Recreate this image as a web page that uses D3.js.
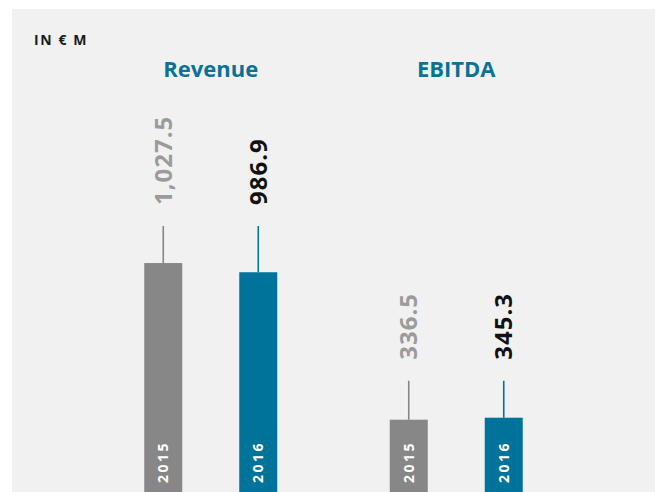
<!DOCTYPE html>
<html>
<head>
<meta charset="utf-8">
<script src="https://cdn.jsdelivr.net/npm/d3@7"></script>
<style>
    body { margin: 0; background: #ffffff; }
    text { font-family: "Open Sans", sans-serif; }
</style>
</head>
<body>
<div id="chart"></div>
<script>
const groups = ["Revenue", "EBITDA"];
const years = ["2015", "2016"];
const revenueValues = [1027.5, 986.9];
const ebitdaValues = [336.5, 345.3];
const valueLabels = [["1,027.5", "986.9"], ["336.5", "345.3"]];

const width = 657;
const height = 492;

const data = groups.map((g, i) => ({
    group: g,
    values: (i === 0 ? revenueValues : ebitdaValues).map((v, j) => ({
        year: years[j],
        value: v,
        label: valueLabels[i][j],
    })),
}));

const svg = d3
    .select("#chart")
    .append("svg")
    .attr("width", width)
    .attr("height", height);

// panel
svg.append("rect")
    .attr("x", 12)
    .attr("y", 9)
    .attr("width", 643)
    .attr("height", height - 9)
    .attr("fill", "#f1f1f1");

const x = d3.scaleBand().domain(groups).range([88, 579]);
const xInner = d3.scalePoint().domain(years).range([-47.5, 47.5]);
const y = d3.scaleLinear().domain([0, 1100]).range([496, 246.6]);
const color = d3.scaleOrdinal().domain(years).range(["#878787", "#00739a"]);
const labelColor = d3.scaleOrdinal().domain(years).range(["#9b9b9b", "#111111"]);
const barWidth = 38;

svg.append("text")
    .attr("x", 34)
    .attr("y", 45)
    .text("IN € M")
    .style("font-size", "14px")
    .style("font-weight", "700")
    .style("letter-spacing", "1.6px")
    .style("fill", "#1a1a1a");

const groupG = svg
    .selectAll(".group")
    .data(data)
    .enter()
    .append("g")
    .attr("class", "group")
    .attr("transform", (d) => `translate(${x(d.group) + x.bandwidth() / 2},0)`);

groupG
    .append("text")
    .attr("x", 0)
    .attr("y", 77)
    .attr("text-anchor", "middle")
    .text((d) => d.group)
    .style("font-size", "22px")
    .style("font-weight", "700")
    .style("fill", "#0a7199");

groupG.each(function (g) {
    const el = d3.select(this);
    const top = y(d3.max(g.values, (d) => d.value)) - 37;

    el.selectAll("line")
        .data(g.values)
        .enter()
        .append("line")
        .attr("x1", (d) => xInner(d.year))
        .attr("x2", (d) => xInner(d.year))
        .attr("y1", top)
        .attr("y2", (d) => y(d.value))
        .attr("stroke", (d) => color(d.year))
        .attr("stroke-width", 1.6);

    el.selectAll("rect")
        .data(g.values)
        .enter()
        .append("rect")
        .attr("x", (d) => xInner(d.year) - barWidth / 2)
        .attr("y", (d) => y(d.value))
        .attr("width", barWidth)
        .attr("height", (d) => y(0) - y(d.value))
        .attr("fill", (d) => color(d.year));

    el.selectAll(".valueLabel")
        .data(g.values)
        .enter()
        .append("text")
        .attr("class", "valueLabel")
        .attr("transform", (d) => `translate(${xInner(d.year)},${top - 21}) rotate(-90)`)
        .attr("dy", "0.36em")
        .text((d) => d.label)
        .style("font-size", "24px")
        .style("font-weight", "700")
        .style("letter-spacing", "1px")
        .style("fill", (d) => labelColor(d.year));

    el.selectAll(".yearLabel")
        .data(g.values)
        .enter()
        .append("text")
        .attr("class", "yearLabel")
        .attr("transform", (d) => `translate(${xInner(d.year)},483) rotate(-90)`)
        .attr("dy", "0.36em")
        .text((d) => d.year)
        .style("font-size", "14px")
        .style("font-weight", "700")
        .style("letter-spacing", "2.5px")
        .style("fill", "#ffffff");
});
</script>
</body>
</html>
